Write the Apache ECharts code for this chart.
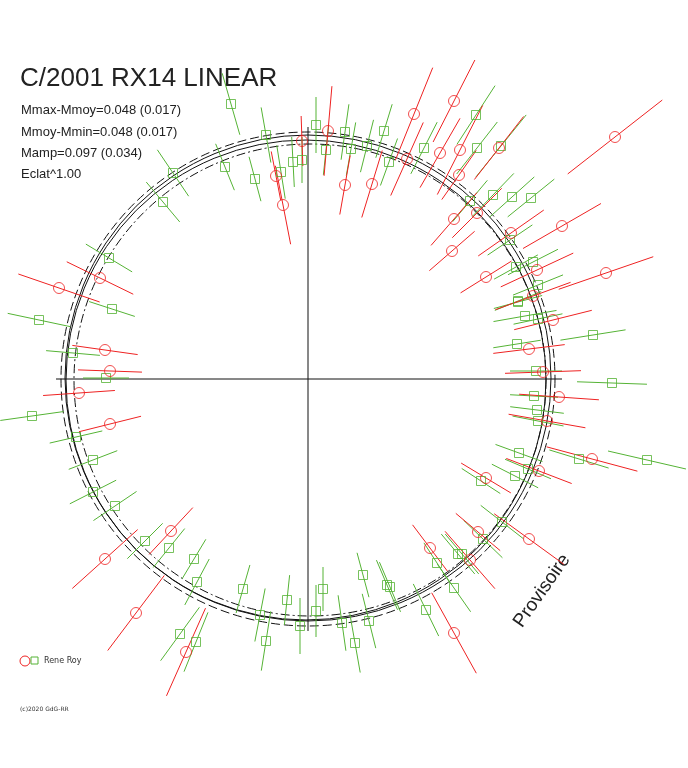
<!DOCTYPE html>
<html>
<head>
<meta charset="utf-8">
<script src="https://cdn.jsdelivr.net/npm/echarts@6/dist/echarts.min.js"></script>
<style>html,body{margin:0;padding:0;background:#fff}#chart{width:688px;height:768px}</style>
</head>
<body>
<div id="chart"></div>
<script>
// points: [x, y, angle of error line (deg), half length]
var redPoints = [
    [454,101,63,46],[414,114,68,50],[328,131,85,45],[345,185,80,30],[372,184,73,35],
    [407,159,66,40],[440,153,60,40],[460,150,63,50],[499,148,52,40],[459,175,55,30],
    [477,213,45,35],[454,219,49,35],[452,251,41,30],[511,233,35,40],[562,226,30,45],
    [615,137,38,60],[486,277,32,30],[537,270,25,40],[606,273,19,50],[533,296,20,40],
    [302,141,92,25],[276,176,101,25],[283,205,101,40],[100,278,154,37],[59,288,161,43],
    [105,350,172,33],[110,371,178,32],[79,393,4,36],[110,424,14,32],
    [553,320,14,40],[529,349,7,36],[543,372,2,38],[559,397,-4,40],[547,421,-10,39],
    [592,459,-15,47],[539,471,-21,35],
    [105,559,42,44],[136,613,53,47],[171,531,47,32],[186,652,66,48],[430,548,127,29],
    [454,633,119,46],[478,532,140,29],[470,560,131,38],[486,478,149,29],[529,539,144,43]
];
var greenPoints = [
    [316,125,90,28],[345,132,82,28],[326,150,84,25],[351,149,80,27],[367,146,76,27],
    [384,131,73,28],[389,162,70,25],[424,148,63,29],[476,115,57,35],[477,148,52,33],
    [501,146,51,40],[470,201,50,27],[493,195,46,30],[512,197,42,30],[531,198,39,30],
    [510,240,34,27],[516,267,29,25],[533,262,27,28],[538,285,22,27],[518,301,22,25],
    [231,104,106,32],[266,135,100,28],[293,162,93,25],[302,160,90,23],[281,172,99,27],
    [255,179,105,23],[225,167,112,25],[173,173,124,28],[163,202,130,26],[109,258,149,27],
    [112,309,162,24],[39,320,168,32],[73,353,175,27],[106,378,180,23],[32,416,8,32],
    [76,437,13,27],
    [518,302,15,25],[525,316,10,32],[538,319,12,25],[593,335,9,33],[517,344,9,24],
    [536,371,0,26],[612,383,-2,35],[534,396,-3,24],[537,410,-7,27],[538,421,-11,26],
    [519,453,-20,25],[528,469,-23,25],[579,459,-17,31],[647,460,-13,40],
    [93,460,21,26],[93,492,27,26],[115,506,34,26],[145,541,45,25],[169,548,51,25],
    [194,559,59,23],[197,582,62,26],[180,634,54,33],[196,642,68,32],[243,589,74,25],
    [260,615,79,27],[266,641,81,30],[287,600,84,25],[300,626,90,28],[316,611,90,26],
    [323,589,90,22],[342,623,98,28],[355,643,100,30],[363,575,105,23],[369,621,104,28],
    [387,585,113,27],[390,587,113,27],[426,610,116,29],[454,588,125,29],[437,563,123,24],
    [458,554,130,26],[462,554,130,26],[483,539,136,27],[502,522,142,27],[481,481,147,23],
    [515,476,153,26]
];
// reference circles: [cx, cy, r, style]
var rings = [
    [308,379,247,'dash'],[308,378,243,'solid'],[306,380,240,'solid'],[310,380,236,'dashdot']
];
// cross axes: [x1, y1, x2, y2]
var crossLines = [[56,379,562,379],[308,127,308,631]];
var statLines = ['Mmax-Mmoy=0.048 (0.017)','Mmoy-Mmin=0.048 (0.017)','Mamp=0.097 (0.034)','Eclat^1.00'];

var RED = '#ee2222', GREEN = '#55b335';

function segItem(color) {
    return function (params, api) {
        var p = api.coord([api.value(0), api.value(1)]);
        var a = api.value(2) * Math.PI / 180;
        var L = api.size([api.value(3), 0])[0];
        return {
            type: 'line',
            shape: { x1: p[0] - L * Math.cos(a), y1: p[1] + L * Math.sin(a), x2: p[0] + L * Math.cos(a), y2: p[1] - L * Math.sin(a) },
            style: { stroke: color, lineWidth: 1 }
        };
    };
}

var myChart = echarts.init(document.getElementById('chart'));
var option = {
    animation: false,
    grid: { left: 0, right: 0, top: 0, bottom: 0 },
    xAxis: { type: 'value', min: 0, max: 688, show: false },
    yAxis: { type: 'value', min: 0, max: 768, inverse: true, show: false },
    graphic: [
        { type: 'text', left: 20, top: 66, style: { text: 'C/2001 RX14 LINEAR', font: '26px "Liberation Sans"', fill: '#222' } },
        { type: 'text', left: 21, top: 100, style: { text: statLines.join('\n'), font: '13px "Liberation Sans"', lineHeight: 21.3, fill: '#222' } },
        { type: 'circle', shape: { cx: 25, cy: 661, r: 5 }, style: { fill: 'none', stroke: RED } },
        { type: 'rect', shape: { x: 31, y: 657, width: 7, height: 7 }, style: { fill: 'none', stroke: GREEN } },
        { type: 'text', left: 44, top: 657, style: { text: 'Rene Roy', font: '8px "DejaVu Sans"', fill: '#333' } },
        { type: 'text', left: 20, top: 706, style: { text: '(c)2020 GdG-RR', font: '6px "DejaVu Sans"', fill: '#333' } },
        { type: 'text', x: 510, y: 620, rotation: 55 * Math.PI / 180, style: { text: 'Provisoire', font: '19px "Liberation Sans"', fill: '#222' } }
    ],
    series: [
        {
            type: 'custom', data: rings, silent: true, z: 1,
            renderItem: function (params, api) {
                var p = api.coord([api.value(0), api.value(1)]);
                var r = api.size([api.value(2), 0])[0];
                var s = rings[params.dataIndex][3];
                var dash = s === 'dash' ? [9, 4] : (s === 'dashdot' ? [9, 3, 2, 3] : null);
                return { type: 'circle', shape: { cx: p[0], cy: p[1], r: r }, style: { fill: 'none', stroke: '#111', lineWidth: 1, lineDash: dash } };
            }
        },
        {
            type: 'custom', data: crossLines, silent: true, z: 1,
            renderItem: function (params, api) {
                var a = api.coord([api.value(0), api.value(1)]);
                var b = api.coord([api.value(2), api.value(3)]);
                return { type: 'line', shape: { x1: a[0], y1: a[1], x2: b[0], y2: b[1] }, style: { stroke: '#111', lineWidth: 1 } };
            }
        },
        { type: 'custom', data: greenPoints, z: 2, renderItem: segItem(GREEN) },
        { type: 'custom', data: redPoints, z: 2, renderItem: segItem(RED) },
        {
            type: 'scatter', data: greenPoints, symbol: 'rect', symbolSize: 9, z: 3,
            itemStyle: { color: 'rgba(0,0,0,0)', borderColor: GREEN, borderWidth: 1 }
        },
        {
            type: 'scatter', data: redPoints, symbol: 'circle', symbolSize: 11, z: 3,
            itemStyle: { color: 'rgba(0,0,0,0)', borderColor: RED, borderWidth: 1 }
        }
    ]
};
myChart.setOption(option);
</script>
</body>
</html>
